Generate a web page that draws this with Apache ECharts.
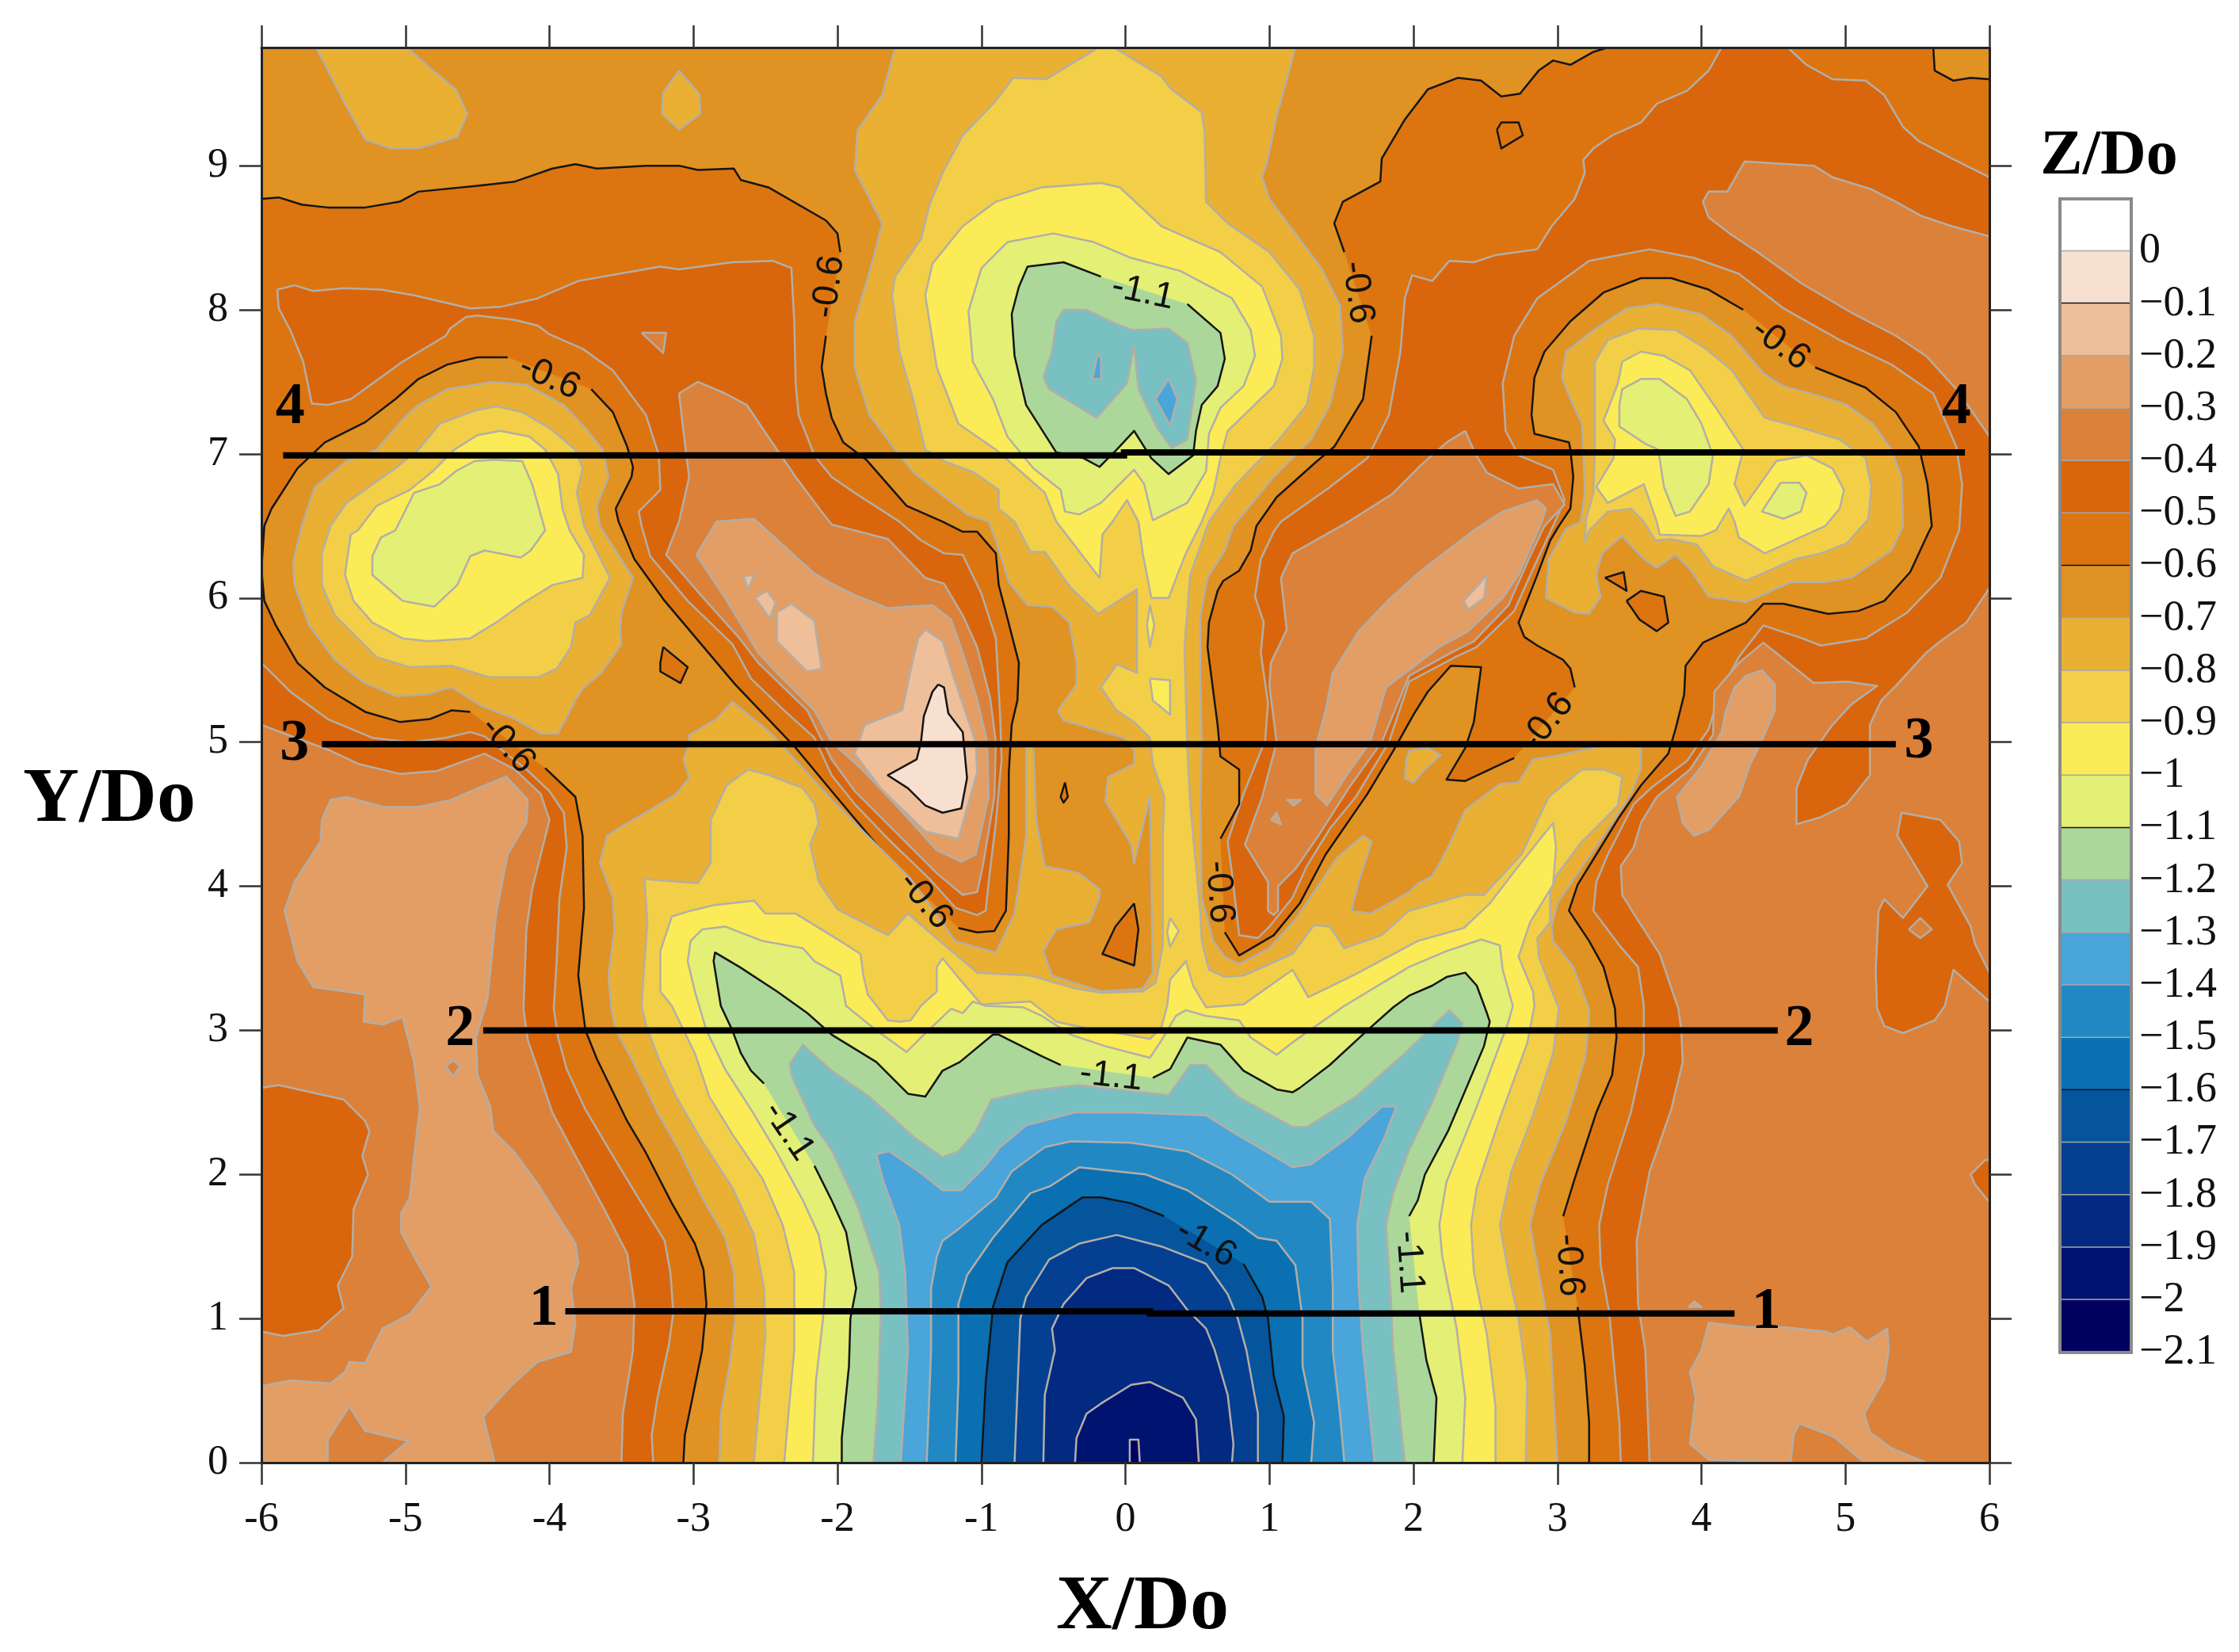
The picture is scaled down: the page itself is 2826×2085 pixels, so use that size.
<!DOCTYPE html>
<html><head><meta charset="utf-8">
<style>html,body{margin:0;padding:0;background:#fff}#c{width:2826px;height:2085px}</style>
<script src="https://cdn.jsdelivr.net/npm/echarts@6/dist/echarts.min.js"></script>
</head><body><div id="c"></div>
<script>
// ---------- tick labels and colour scale ----------
const xTicks = [-6,-5,-4,-3,-2,-1,0,1,2,3,4,5,6];
const yTicks = [0,1,2,3,4,5,6,7,8,9];
const scaleLevels = [0.1,0,-0.1,-0.2,-0.3,-0.4,-0.5,-0.6,-0.7,-0.8,-0.9,-1,-1.1,-1.2,-1.3,-1.4,-1.5,-1.6,-1.7,-1.8,-1.9,-2,-2.1];
const scaleColors = ['#ffffff','#f8e0d1','#efbf99','#e39e66','#dc813a','#d9660c','#dc7510','#e09222','#e9b034','#f2cf47','#fbeb57','#e3ef75','#abd79b','#78c0c2','#49a5da','#2288c3','#0a70b1','#05559d','#043f91','#022a80','#011370','#000060'];
const scaleLabels = ['0','−0.1','−0.2','−0.3','−0.4','−0.5','−0.6','−0.7','−0.8','−0.9','−1','−1.1','−1.2','−1.3','−1.4','−1.5','−1.6','−1.7','−1.8','−1.9','−2','−2.1'];

// ---------- contour outlines, in X/Do, Y/Do ----------
const base = [[-6,0],[6,0],[6,9.82],[-6,9.82]];

// Z/Do > -0.5
const gt05right = [[3.44,0],[3.43,0.28],[3.36,1.04],[3.3,1.37],[3.29,1.65],[3.35,1.93],[3.51,2.43],[3.6,2.84],[3.6,3.17],[3.56,3.44],[3.43,3.59],[3.25,3.83],[3.27,4.03],[3.35,4.22],[3.53,4.57],[3.66,4.69],[3.9,4.87],[4.05,5.09],[4.13,5.35],[4.26,5.59],[4.43,5.81],[4.7,5.72],[4.83,5.67],[5.14,5.72],[5.43,5.9],[5.66,6.14],[5.79,6.47],[5.81,6.79],[5.77,7.05],[5.61,7.42],[5.32,7.62],[4.96,7.79],[4.57,8.01],[4.26,8.25],[3.95,8.36],[3.64,8.42],[3.22,8.34],[2.86,8.08],[2.7,7.82],[2.62,7.49],[2.64,7.16],[2.73,6.99],[2.97,6.89],[3.05,6.68],[2.97,6.5],[2.83,6.2],[2.7,5.91],[2.44,5.66],[2.29,5.59],[1.97,5.42],[1.83,5.0],[1.6,4.62],[1.42,4.4],[1.26,4.14],[1.16,3.92],[1.0,3.72],[0.92,3.64],[0.79,3.66],[0.74,4.09],[0.71,4.31],[0.82,4.64],[0.97,5.01],[0.99,5.27],[0.94,5.62],[0.96,5.83],[0.9,6.01],[0.94,6.27],[1.03,6.46],[1.08,6.53],[1.42,6.77],[1.68,6.97],[1.83,7.27],[1.91,7.71],[1.94,8.08],[1.99,8.24],[2.13,8.2],[2.25,8.34],[2.42,8.33],[2.57,8.38],[2.86,8.42],[2.96,8.58],[3.12,8.77],[3.19,8.95],[3.18,9.04],[3.25,9.12],[3.38,9.21],[3.58,9.3],[3.69,9.43],[3.9,9.52],[4.05,9.66],[4.14,9.82],[4.6,9.82],[4.73,9.7],[4.91,9.6],[5.14,9.59],[5.27,9.49],[5.4,9.27],[5.51,9.17],[5.74,9.05],[6,8.92],[6,0]];
const gt05ridgeLeft = [[-5.89,8.14],[-5.77,8.17],[-5.64,8.13],[-5.43,8.15],[-5.17,8.14],[-4.94,8.1],[-4.55,8.01],[-4.34,8.02],[-4.08,8.08],[-3.8,8.2],[-3.46,8.26],[-3.23,8.3],[-3.1,8.28],[-2.73,8.33],[-2.45,8.34],[-2.32,8.29],[-2.3,7.92],[-2.29,7.49],[-2.27,7.27],[-2.16,6.99],[-2.04,6.84],[-1.88,6.73],[-1.57,6.53],[-1.42,6.4],[-1.26,6.31],[-1.13,6.3],[-1.0,6.03],[-0.9,5.72],[-0.87,5.18],[-0.86,4.88],[-0.9,4.44],[-0.95,4.03],[-0.97,3.83],[-1.03,3.8],[-1.18,3.85],[-1.36,4.05],[-1.65,4.33],[-1.88,4.57],[-2.04,4.77],[-2.16,5.03],[-2.37,5.22],[-2.6,5.44],[-2.73,5.68],[-3.04,5.98],[-3.3,6.29],[-3.36,6.5],[-3.38,6.6],[-3.23,6.75],[-3.24,6.99],[-3.33,7.27],[-3.56,7.58],[-3.77,7.73],[-4.0,7.83],[-4.08,7.89],[-4.24,7.93],[-4.5,7.96],[-4.58,7.95],[-4.69,7.87],[-4.72,7.82],[-5.02,7.64],[-5.38,7.38],[-5.54,7.34],[-5.65,7.35],[-5.71,7.64],[-5.8,7.86],[-5.88,8.01]];
const gt05lowerLeft = [[-6,5.55],[-5.8,5.35],[-5.54,5.16],[-5.23,5.03],[-4.97,5.0],[-4.72,5.03],[-4.55,5.07],[-4.45,5.04],[-4.16,4.81],[-4.0,4.66],[-3.9,4.51],[-3.88,4.27],[-3.93,3.92],[-3.95,3.48],[-3.97,3.15],[-3.94,2.95],[-3.88,2.73],[-3.75,2.45],[-3.56,2.13],[-3.36,1.8],[-3.2,1.54],[-3.16,1.32],[-3.14,1.04],[-3.17,0.82],[-3.25,0.45],[-3.29,0.19],[-3.28,0],[-6,0]];

// Z/Do > -0.4
const gt04lowerLeft = [[-6,5.12],[-5.52,4.94],[-5.33,4.85],[-5.04,4.78],[-4.78,4.8],[-4.45,4.92],[-4.24,4.81],[-4.06,4.64],[-4,4.46],[-4.06,4.22],[-4.12,3.98],[-4.16,3.7],[-4.18,3.15],[-4.15,2.93],[-4.08,2.73],[-3.98,2.43],[-3.82,2.13],[-3.62,1.76],[-3.46,1.45],[-3.41,1.1],[-3.42,0.78],[-3.49,0.34],[-3.5,0],[-6,0]];
const gt04ridgeLeft = [[-3.1,7.42],[-2.97,7.5],[-2.78,7.42],[-2.63,7.34],[-2.42,7.03],[-2.29,6.84],[-2.11,6.6],[-2.04,6.51],[-1.65,6.41],[-1.39,6.14],[-1.26,6.1],[-1.13,5.88],[-1.03,5.66],[-0.94,5.31],[-0.9,5.0],[-0.91,4.62],[-0.99,4.14],[-1.03,3.96],[-1.13,3.94],[-1.31,4.09],[-1.6,4.38],[-1.88,4.66],[-2.04,4.88],[-2.21,5.22],[-2.55,5.55],[-2.68,5.72],[-2.94,6.01],[-3.19,6.3],[-3.1,6.53],[-3.03,6.84],[-3.07,7.16]];
const gt04speck = [[-3.36,7.84],[-3.19,7.84],[-3.21,7.7]];
const gt04ridgeRight = [[2.36,7.16],[2.43,7.0],[2.51,6.87],[2.73,6.76],[2.97,6.79],[3.05,6.65],[2.91,6.5],[2.81,6.29],[2.66,5.95],[2.42,5.7],[2.26,5.62],[1.97,5.46],[1.78,5.0],[1.55,4.68],[1.34,4.35],[1.18,4.12],[1.06,4.0],[1.06,3.83],[1.03,3.8],[0.99,3.83],[0.99,4.03],[0.83,4.29],[0.95,4.62],[1.05,5.0],[1.0,5.39],[1.01,5.55],[1.12,5.78],[1.08,6.14],[1.16,6.31],[1.55,6.53],[1.85,6.72],[2.05,6.92],[2.23,7.08]];
const gt04lowerRight = [[3.64,0],[3.61,0.78],[3.56,1.1],[3.55,1.54],[3.64,2.02],[3.79,2.45],[3.87,2.78],[3.86,3.0],[3.84,3.15],[3.71,3.53],[3.53,3.81],[3.45,3.94],[3.44,4.14],[3.53,4.27],[3.58,4.44],[3.69,4.62],[3.92,4.81],[4.08,5.05],[4.09,5.35],[4.26,5.55],[4.43,5.69],[4.78,5.41],[5.01,5.42],[5.22,5.39],[5.04,5.26],[4.91,5.12],[4.74,4.88],[4.66,4.68],[4.66,4.43],[4.83,4.48],[5.01,4.57],[5.17,4.77],[5.17,5.12],[5.25,5.29],[5.35,5.39],[5.56,5.62],[5.66,5.7],[5.84,5.83],[6,6.07],[6,0]];
const gt04upperRight = [[4.3,9.03],[4.78,9.0],[4.91,8.92],[5.17,8.84],[5.35,8.75],[5.53,8.65],[5.74,8.58],[6,8.51],[6,7.12],[5.77,7.45],[5.56,7.68],[5.35,7.82],[5.06,7.97],[4.7,8.18],[4.39,8.4],[4.21,8.52],[4.05,8.64],[4.01,8.75],[4.05,8.82],[4.18,8.82]];

// Z/Do < -0.4 pockets
const lt04pocketLeft = [[-6,2.6],[-5.88,2.62],[-5.43,2.52],[-5.28,2.37],[-5.25,2.3],[-5.3,2.13],[-5.26,2.0],[-5.36,1.76],[-5.37,1.43],[-5.47,1.23],[-5.43,1.07],[-5.6,0.92],[-5.85,0.88],[-6,0.91]];
const lt04pocketRight = [[5.39,4.51],[5.66,4.46],[5.79,4.31],[5.81,4.16],[5.71,4.01],[5.87,3.72],[5.9,3.6],[6,3.4],[6,3.2],[5.75,3.42],[5.69,3.17],[5.62,3.07],[5.4,2.98],[5.27,3.03],[5.22,3.15],[5.21,3.42],[5.23,3.83],[5.27,3.91],[5.4,3.78],[5.57,4.0],[5.45,4.2],[5.36,4.35]];
const lt04pocketEdge = [[5.97,2.1],[5.87,2.0],[5.9,1.93],[5.99,1.82],[6,1.82],[6,2.1]];
const gt04diamond = [[5.44,3.7],[5.52,3.78],[5.6,3.7],[5.52,3.64]];

// Z/Do > -0.3
const gt03lowerLeft = [[-5.52,4.6],[-5.41,4.62],[-5.15,4.55],[-4.91,4.55],[-4.68,4.6],[-4.5,4.68],[-4.3,4.76],[-4.15,4.6],[-4.16,4.44],[-4.29,4.22],[-4.37,3.81],[-4.43,3.22],[-4.51,2.95],[-4.5,2.69],[-4.41,2.47],[-4.39,2.3],[-4.24,2.15],[-4.08,1.93],[-3.82,1.52],[-3.8,1.39],[-3.85,1.21],[-3.82,0.97],[-3.85,0.77],[-4.08,0.7],[-4.26,0.54],[-4.46,0.32],[-4.38,0],[-6,0],[-6,0.53],[-5.8,0.57],[-5.52,0.55],[-5.42,0.63],[-5.39,0.7],[-5.28,0.69],[-5.16,0.93],[-4.97,1.03],[-4.82,1.22],[-4.94,1.43],[-5.03,1.6],[-5.03,1.73],[-4.97,1.84],[-4.94,2.13],[-4.9,2.46],[-4.94,2.78],[-5.02,3.09],[-5.16,3.04],[-5.29,3.06],[-5.28,3.25],[-5.64,3.3],[-5.75,3.48],[-5.84,3.83],[-5.77,4.03],[-5.59,4.31],[-5.58,4.46]];
const gt04holeA = [[-4.72,2.75],[-4.67,2.79],[-4.62,2.75],[-4.67,2.68]];
const gt04holeB = [[-5.39,0.39],[-5.28,0.22],[-4.98,0.15],[-5.16,0],[-5.54,0],[-5.54,0.16]];
const gt03ridgeLeft = [[-2.98,6.3],[-2.84,6.53],[-2.58,6.55],[-2.16,6.17],[-2.04,6.1],[-1.88,6.02],[-1.65,5.93],[-1.34,5.95],[-1.21,5.85],[-1.13,5.62],[-1.03,5.3],[-0.96,5.0],[-0.95,4.62],[-1.04,4.22],[-1.14,4.17],[-1.31,4.25],[-1.6,4.57],[-1.83,4.81],[-2.04,5.0],[-2.16,5.22],[-2.42,5.48],[-2.55,5.62],[-2.78,6.0]];
const gt03ridgeRight = [[1.32,4.64],[1.32,4.96],[1.39,5.22],[1.44,5.48],[1.62,5.77],[1.83,5.99],[2.03,6.17],[2.42,6.47],[2.62,6.6],[2.86,6.68],[2.92,6.62],[2.88,6.5],[2.73,6.16],[2.62,6.0],[2.38,5.77],[2.18,5.66],[1.97,5.5],[1.81,5.38],[1.7,5.0],[1.55,4.79],[1.4,4.56]];
const gt03streak = [[4.42,5.5],[4.51,5.4],[4.51,5.22],[4.42,5.01],[4.34,4.85],[4.26,4.62],[4.05,4.39],[3.95,4.35],[3.87,4.44],[3.83,4.62],[4.0,4.83],[4.14,5.07],[4.17,5.22],[4.23,5.38],[4.31,5.46]];
const gt03lowerRight = [[4.05,0.97],[4.31,0.94],[4.57,0.94],[4.86,0.91],[4.91,0.89],[5.03,0.94],[5.15,0.84],[5.29,0.93],[5.3,0.78],[5.27,0.58],[5.13,0.34],[5.17,0.21],[5.32,0.1],[5.56,0],[5.13,0],[4.92,0.18],[4.68,0.27],[4.64,0.19],[4.62,0],[4.05,0.02],[3.92,0.13],[3.96,0.45],[3.92,0.63],[4.0,0.78]];
const gt03fleckA = [[3.91,1.08],[3.95,1.12],[4.0,1.08]];

// Z/Do > -0.2
const gt02ridgeLeft = [[-1.39,5.78],[-1.27,5.7],[-1.19,5.44],[-1.04,5.0],[-1.03,4.79],[-1.16,4.33],[-1.39,4.38],[-1.7,4.68],[-1.88,4.92],[-1.81,5.12],[-1.55,5.22],[-1.48,5.55],[-1.44,5.72]];
const gt02fleckA = [[-2.42,5.9],[-2.32,5.96],[-2.16,5.84],[-2.11,5.51],[-2.21,5.49],[-2.42,5.7]];
const gt02fleckB = [[-2.57,6.0],[-2.49,6.05],[-2.43,5.97],[-2.47,5.86]];
const gt02fleckC = [[-2.65,6.15],[-2.58,6.16],[-2.62,6.06]];
const gt02fleckD = [[2.51,6.16],[2.49,6.0],[2.38,5.92],[2.35,5.98],[2.45,6.09]];
const gt03fleckB = [[1.12,4.6],[1.22,4.6],[1.17,4.56]];
const gt03fleckC = [[1.01,4.46],[1.05,4.51],[1.08,4.43]];

// Z/Do > -0.1
const gt01peak = [[-1.3,5.4],[-1.26,5.38],[-1.23,5.2],[-1.13,5.07],[-1.1,4.75],[-1.14,4.54],[-1.27,4.51],[-1.39,4.56],[-1.51,4.68],[-1.65,4.77],[-1.45,4.88],[-1.42,5.0],[-1.4,5.18],[-1.34,5.35]];

// Z/Do < -0.6
const lt06main = [[-6,8.77],[-5.88,8.78],[-5.72,8.73],[-5.54,8.71],[-5.28,8.71],[-5.04,8.75],[-4.91,8.82],[-4.5,8.86],[-4.24,8.89],[-3.98,8.98],[-3.82,9.01],[-3.67,8.98],[-3.33,9.0],[-3.1,9.0],[-2.97,8.97],[-2.72,8.98],[-2.67,8.9],[-2.48,8.85],[-2.08,8.62],[-2.0,8.53],[-1.98,8.4],[-2.08,7.82],[-2.11,7.6],[-2.08,7.42],[-2.04,7.25],[-1.96,7.08],[-1.8,6.96],[-1.52,6.64],[-1.27,6.53],[-1.13,6.46],[-1.03,6.46],[-0.9,6.31],[-0.88,6.09],[-0.83,5.9],[-0.74,5.55],[-0.75,5.29],[-0.79,5.12],[-0.81,4.79],[-0.81,4.35],[-0.83,3.83],[-0.91,3.69],[-1.03,3.68],[-1.16,3.71],[-1.62,4.16],[-2.04,4.66],[-2.29,4.96],[-2.71,5.4],[-3.2,5.98],[-3.41,6.27],[-3.52,6.53],[-3.54,6.62],[-3.43,6.84],[-3.42,6.91],[-3.46,7.05],[-3.56,7.29],[-3.71,7.45],[-4.29,7.67],[-4.5,7.67],[-4.71,7.62],[-4.91,7.52],[-5.07,7.38],[-5.28,7.22],[-5.56,7.08],[-5.75,6.9],[-5.93,6.62],[-5.98,6.5],[-6,6.2],[-5.98,5.98],[-5.9,5.81],[-5.75,5.55],[-5.56,5.38],[-5.28,5.21],[-5.04,5.14],[-4.83,5.16],[-4.68,5.22],[-4.55,5.21],[-4.03,4.82],[-3.82,4.62],[-3.77,4.35],[-3.76,3.85],[-3.8,3.38],[-3.77,3.15],[-3.75,3.0],[-3.67,2.8],[-3.46,2.37],[-3.33,2.15],[-3.15,1.8],[-2.99,1.52],[-2.93,1.34],[-2.91,1.1],[-2.94,0.78],[-3.06,0.19],[-3.07,0],[3.22,0],[3.22,0.28],[3.19,0.67],[3.14,1.08],[3.04,1.71],[3.12,1.97],[3.27,2.43],[3.38,2.69],[3.41,2.95],[3.4,3.15],[3.32,3.44],[3.22,3.62],[3.08,3.83],[3.14,4.01],[3.27,4.22],[3.43,4.48],[3.58,4.7],[3.77,4.92],[3.82,5.09],[3.88,5.33],[3.89,5.53],[4.01,5.69],[4.31,5.83],[4.43,5.96],[4.57,5.96],[4.88,5.89],[5.09,5.91],[5.27,5.98],[5.45,6.18],[5.57,6.44],[5.6,6.5],[5.57,6.79],[5.51,7.05],[5.35,7.29],[5.14,7.46],[4.79,7.6],[4.29,8.0],[4.05,8.14],[3.79,8.22],[3.58,8.22],[3.32,8.12],[3.09,7.92],[2.91,7.71],[2.84,7.53],[2.82,7.27],[2.84,7.14],[3.08,7.08],[3.09,7.03],[3.11,6.84],[3.09,6.62],[3.01,6.5],[2.95,6.4],[2.86,6.16],[2.73,5.83],[2.77,5.73],[2.86,5.67],[3.04,5.57],[3.09,5.51],[3.12,5.38],[2.7,4.89],[2.36,4.73],[2.23,4.74],[2.36,4.96],[2.42,5.14],[2.47,5.52],[2.26,5.53],[2.1,5.35],[2.0,5.19],[1.86,4.94],[1.68,4.64],[1.39,4.22],[1.21,3.88],[1.03,3.66],[0.79,3.52],[0.69,3.68],[0.66,4.33],[0.79,4.57],[0.79,4.81],[0.66,4.9],[0.64,5.12],[0.57,5.66],[0.58,5.83],[0.64,6.05],[0.68,6.12],[0.79,6.19],[0.87,6.33],[0.91,6.5],[1.05,6.7],[1.33,6.95],[1.45,7.05],[1.65,7.38],[1.71,7.82],[1.52,8.4],[1.45,8.6],[1.51,8.75],[1.77,8.89],[1.78,9.05],[1.94,9.32],[2.1,9.53],[2.31,9.61],[2.47,9.59],[2.61,9.48],[2.74,9.5],[2.87,9.66],[2.97,9.73],[3.09,9.7],[3.25,9.79],[3.35,9.82],[-6,9.82]];
const lt06corner = [[5.61,9.82],[5.62,9.66],[5.75,9.59],[5.87,9.61],[6,9.6],[6,9.82]];
// Z/Do > -0.6 pockets
const gt06pocketA = [[2.58,9.25],[2.61,9.3],[2.73,9.3],[2.76,9.21],[2.61,9.12]];
const gt06pocketB = [[-3.21,5.66],[-3.04,5.52],[-3.09,5.41],[-3.23,5.49],[-3.23,5.55]];
const gt06pocketC = [[0.06,3.88],[0.09,3.7],[0.06,3.45],[-0.16,3.53],[-0.07,3.72]];
const gt06pocketD = [[-0.42,4.72],[-0.4,4.62],[-0.43,4.58],[-0.45,4.62]];
const gt06pocketE = [[3.33,6.14],[3.46,6.18],[3.48,6.05]];
const gt06pocketF = [[3.48,5.98],[3.58,6.05],[3.74,6.01],[3.77,5.83],[3.69,5.77],[3.57,5.85]];

// Z/Do < -0.7
const lt07main = [[-1.6,9.82],[-1.69,9.49],[-1.86,9.25],[-1.88,8.97],[-1.73,8.68],[-1.69,8.6],[-1.75,8.36],[-1.88,7.92],[-1.88,7.6],[-1.78,7.27],[-1.6,7.03],[-1.47,6.87],[-1.28,6.72],[-1.1,6.58],[-0.95,6.53],[-0.9,6.4],[-0.81,6.11],[-0.68,5.95],[-0.51,5.94],[-0.39,5.83],[-0.34,5.55],[-0.34,5.4],[-0.47,5.22],[-0.43,5.15],[-0.01,5.03],[0.06,4.94],[0.06,4.85],[-0.12,4.76],[-0.14,4.59],[0.04,4.29],[0.06,4.16],[0.17,4.62],[0.19,3.4],[0.12,3.29],[-0.17,3.27],[-0.51,3.38],[-0.57,3.55],[-0.48,3.7],[-0.25,3.75],[-0.18,3.92],[-0.18,3.98],[-0.32,4.09],[-0.56,4.14],[-0.62,4.46],[-0.64,4.96],[-0.66,5.0],[-0.69,4.96],[-0.69,4.35],[-0.77,3.81],[-0.9,3.54],[-1.18,3.62],[-1.49,4.05],[-1.73,4.29],[-2.04,4.6],[-2.47,5.07],[-2.73,5.28],[-2.84,5.16],[-3.03,5.05],[-3.04,4.96],[-3.07,4.88],[-3.03,4.75],[-3.12,4.64],[-3.3,4.53],[-3.54,4.39],[-3.6,4.35],[-3.65,4.16],[-3.56,3.92],[-3.55,3.7],[-3.59,3.38],[-3.57,3.15],[-3.54,3.0],[-3.43,2.8],[-3.25,2.43],[-3.1,2.17],[-2.94,1.84],[-2.78,1.56],[-2.72,1.32],[-2.71,1.0],[-2.75,0.67],[-2.81,0.34],[-2.82,0],[3.0,0],[2.98,0.34],[2.95,0.89],[2.87,1.32],[2.81,1.65],[2.88,1.93],[3.06,2.37],[3.19,2.8],[3.22,3.06],[3.22,3.15],[3.11,3.44],[2.97,3.62],[2.96,3.72],[3.0,3.88],[3.14,4.09],[3.32,4.35],[3.51,4.64],[3.58,4.81],[3.58,4.96],[3.43,5.0],[3.25,4.96],[3.01,4.91],[2.83,4.88],[2.73,4.72],[2.6,4.71],[2.36,4.53],[2.23,4.25],[2.13,4.07],[2.03,4.02],[1.97,3.96],[1.7,3.81],[1.57,3.83],[1.62,4.03],[1.71,4.31],[1.65,4.35],[1.47,4.2],[1.31,3.96],[1.18,3.77],[1.0,3.57],[0.79,3.46],[0.69,3.51],[0.61,3.62],[0.53,3.92],[0.52,4.57],[0.53,5.0],[0.52,5.44],[0.52,5.88],[0.57,6.14],[0.69,6.33],[0.75,6.5],[1.03,6.84],[1.29,7.1],[1.42,7.34],[1.51,7.71],[1.49,8.03],[1.36,8.29],[1.18,8.53],[1.0,8.77],[0.95,8.92],[0.99,9.05],[1.05,9.34],[1.18,9.82]];
const lt07topLeft = [[-5.62,9.82],[-5.43,9.45],[-5.28,9.18],[-5.1,9.12],[-4.91,9.12],[-4.64,9.2],[-4.57,9.36],[-4.65,9.53],[-4.83,9.68],[-4.99,9.82]];
const lt07topSpot = [[-3.1,9.66],[-2.96,9.5],[-2.95,9.36],[-3.1,9.25],[-3.22,9.36],[-3.21,9.51]];
const lt07leftLobe = [[-5.72,6.5],[-5.63,6.77],[-5.41,6.95],[-5.2,7.03],[-5.02,7.24],[-4.91,7.34],[-4.71,7.45],[-4.39,7.5],[-4.16,7.48],[-3.9,7.34],[-3.75,7.18],[-3.63,7.03],[-3.59,6.84],[-3.67,6.64],[-3.65,6.5],[-3.42,6.14],[-3.5,5.9],[-3.51,5.77],[-3.5,5.68],[-3.64,5.48],[-3.76,5.38],[-3.82,5.29],[-3.94,5.06],[-4.06,5.06],[-4.26,5.17],[-4.47,5.25],[-4.68,5.38],[-4.86,5.33],[-5.07,5.32],[-5.3,5.42],[-5.49,5.57],[-5.67,5.81],[-5.77,6.09],[-5.78,6.25]];
const lt07rightLobe = [[3.03,7.53],[3.06,7.71],[3.25,7.86],[3.48,8.01],[3.69,8.04],[4.0,7.97],[4.21,7.82],[4.44,7.55],[4.57,7.47],[4.83,7.4],[5.01,7.34],[5.19,7.21],[5.32,7.03],[5.39,6.84],[5.4,6.5],[5.32,6.33],[5.04,6.14],[4.86,6.11],[4.62,6.11],[4.31,5.97],[4.05,6.01],[3.92,6.2],[3.82,6.3],[3.69,6.21],[3.6,6.27],[3.45,6.43],[3.31,6.31],[3.27,6.16],[3.3,6.01],[3.22,5.89],[3.12,5.9],[2.92,6.0],[2.94,6.27],[3.06,6.48],[3.16,6.53],[3.19,6.73],[3.18,7.01],[3.17,7.21],[3.09,7.38]];
const lt07patch = [[1.97,4.94],[2.1,4.96],[2.19,4.91],[2.08,4.81],[2.0,4.72],[1.94,4.75],[1.95,4.88]];

// Z/Do < -0.8
const lt08main = [[-0.19,9.82],[-0.08,9.82],[0.25,9.62],[0.32,9.53],[0.53,9.37],[0.55,9.23],[0.56,8.75],[0.71,8.6],[1.0,8.4],[1.21,8.14],[1.31,7.82],[1.31,7.6],[1.26,7.34],[1.05,7.08],[0.76,6.78],[0.58,6.53],[0.45,6.16],[0.41,5.66],[0.43,4.96],[0.45,4.57],[0.49,4.14],[0.52,3.81],[0.53,3.62],[0.58,3.42],[0.69,3.37],[0.82,3.38],[1.16,3.53],[1.31,3.73],[1.42,3.72],[1.52,3.57],[1.78,3.66],[1.97,3.83],[2.36,3.94],[2.49,3.94],[2.75,4.22],[2.94,4.62],[3.17,4.81],[3.32,4.81],[3.45,4.76],[3.42,4.56],[3.17,4.31],[2.99,4.07],[2.95,3.96],[2.95,3.75],[2.86,3.64],[2.87,3.51],[3.01,3.15],[2.97,2.84],[2.83,2.41],[2.68,2.02],[2.6,1.65],[2.66,1.32],[2.73,1.0],[2.79,0.56],[2.78,0],[-2.58,0],[-2.55,0.34],[-2.5,0.89],[-2.51,1.21],[-2.58,1.58],[-2.73,1.91],[-2.94,2.23],[-3.12,2.54],[-3.24,2.8],[-3.33,3.04],[-3.36,3.17],[-3.34,3.48],[-3.32,3.75],[-3.34,4.05],[-2.97,4.02],[-2.88,4.16],[-2.88,4.46],[-2.77,4.7],[-2.62,4.81],[-2.47,4.77],[-2.24,4.68],[-2.16,4.57],[-2.13,4.44],[-2.19,4.29],[-2.13,4.03],[-2.0,3.84],[-1.65,3.66],[-1.51,3.81],[-1.29,3.62],[-1.03,3.4],[-0.66,3.38],[-0.35,3.29],[-0.17,3.26],[0.12,3.27],[0.21,3.33],[0.26,3.59],[0.26,4.35],[0.27,4.62],[0.19,4.85],[0.17,5.03],[0.06,5.14],[-0.06,5.22],[-0.17,5.38],[-0.06,5.54],[0.08,5.48],[0.08,6.06],[-0.19,5.89],[-0.38,6.07],[-0.56,6.32],[-0.66,6.32],[-0.77,6.53],[-0.88,6.62],[-0.88,6.75],[-1.05,6.87],[-1.26,6.95],[-1.39,7.03],[-1.48,7.4],[-1.57,7.71],[-1.62,8.1],[-1.6,8.23],[-1.42,8.49],[-1.36,8.73],[-1.26,8.97],[-1.13,9.21],[-0.9,9.45],[-0.78,9.61],[-0.55,9.6],[-0.22,9.8]];
const lt08leftLobe = [[-5.52,6.5],[-5.41,6.66],[-5.07,6.9],[-4.91,7.03],[-4.76,7.21],[-4.52,7.3],[-4.37,7.33],[-4.19,7.29],[-4.0,7.18],[-3.82,7.03],[-3.77,6.9],[-3.81,6.73],[-3.76,6.5],[-3.58,6.14],[-3.72,5.88],[-3.82,5.83],[-3.85,5.66],[-3.95,5.51],[-4.08,5.45],[-4.42,5.45],[-4.68,5.53],[-4.97,5.52],[-5.2,5.59],[-5.49,5.88],[-5.58,6.09],[-5.58,6.31]];
const lt08rightLobe = [[3.26,7.64],[3.35,7.79],[3.56,7.87],[3.82,7.86],[4.03,7.73],[4.21,7.58],[4.44,7.25],[4.7,7.18],[4.96,7.1],[5.14,6.97],[5.18,6.77],[5.16,6.55],[5.01,6.38],[4.83,6.31],[4.65,6.27],[4.31,6.12],[4.08,6.22],[3.97,6.37],[3.79,6.41],[3.68,6.4],[3.6,6.53],[3.51,6.62],[3.35,6.6],[3.22,6.47],[3.19,6.39],[3.2,6.55],[3.25,6.73],[3.26,7.01],[3.26,7.38]];

// Z/Do < -0.9
const lt09top = [[-0.9,8.75],[-0.58,8.85],[-0.17,8.88],[-0.04,8.85],[0.25,8.58],[0.66,8.4],[0.95,8.16],[1.08,7.82],[1.09,7.66],[1.03,7.47],[0.71,7.16],[0.66,6.97],[0.61,6.73],[0.53,6.53],[0.42,6.31],[0.36,6.16],[0.3,6.0],[0.18,6.0],[0.12,6.31],[0.09,6.53],[0.01,6.68],[-0.09,6.53],[-0.16,6.44],[-0.18,6.14],[-0.48,6.53],[-0.56,6.73],[-0.9,7.03],[-1.16,7.21],[-1.31,7.6],[-1.39,8.1],[-1.34,8.32],[-1.13,8.58]];
const lt09main = [[-2.37,0],[-2.34,0.34],[-2.3,0.78],[-2.3,1.32],[-2.38,1.65],[-2.52,1.97],[-2.73,2.28],[-2.89,2.54],[-2.99,2.84],[-3.15,3.17],[-3.23,3.27],[-3.23,3.55],[-3.15,3.79],[-3.02,3.83],[-2.85,3.87],[-2.58,3.9],[-2.5,3.81],[-2.29,3.81],[-2.11,3.7],[-1.98,3.62],[-1.84,3.53],[-1.82,3.38],[-1.79,3.25],[-1.65,3.07],[-1.57,3.06],[-1.49,3.07],[-1.42,3.17],[-1.31,3.27],[-1.31,3.44],[-1.27,3.5],[-1.13,3.33],[-1.0,3.18],[-0.66,3.2],[-0.48,3.06],[-0.25,3.01],[0.01,2.97],[0.17,2.94],[0.25,3.02],[0.29,3.17],[0.31,3.35],[0.42,3.48],[0.47,3.31],[0.56,3.16],[0.82,3.18],[1.16,3.42],[1.27,3.23],[1.6,3.39],[2.03,3.62],[2.35,3.71],[2.53,3.88],[2.73,4.14],[2.97,4.44],[2.99,4.27],[2.97,4.01],[2.81,3.75],[2.73,3.51],[2.83,3.27],[2.84,3.17],[2.79,2.91],[2.6,2.39],[2.44,1.91],[2.4,1.65],[2.42,1.32],[2.51,0.89],[2.57,0.39],[2.57,0]];
const lt09leftLobe = [[-5.33,6.47],[-5.2,6.64],[-4.97,6.75],[-4.81,6.88],[-4.66,7.03],[-4.5,7.13],[-4.34,7.16],[-4.14,7.12],[-4.03,7.03],[-3.94,6.86],[-3.91,6.62],[-3.86,6.47],[-3.76,6.3],[-3.77,6.14],[-3.98,6.09],[-4.19,5.96],[-4.37,5.83],[-4.55,5.72],[-4.84,5.7],[-5.02,5.72],[-5.23,5.83],[-5.36,5.98],[-5.42,6.16],[-5.38,6.44]];
const lt09rightLobe = [[3.42,7.49],[3.45,7.64],[3.58,7.71],[3.74,7.68],[3.92,7.58],[4.1,7.32],[4.29,7.03],[4.23,6.79],[4.3,6.64],[4.52,6.95],[4.73,6.99],[4.91,6.9],[4.99,6.75],[4.96,6.62],[4.86,6.5],[4.44,6.31],[4.26,6.42],[4.23,6.53],[4.19,6.62],[4.1,6.47],[4.0,6.43],[3.71,6.44],[3.69,6.53],[3.6,6.79],[3.35,6.66],[3.27,6.77],[3.39,6.97],[3.4,7.1],[3.32,7.23]];
const lt09spotA = [[0.17,5.44],[0.31,5.43],[0.31,5.19],[0.19,5.29]];
const lt09spotB = [[0.17,5.95],[0.2,5.81],[0.17,5.66],[0.15,5.81]];
const lt09spotC = [[0.31,3.78],[0.37,3.69],[0.31,3.58],[0.29,3.68]];

// Z/Do < -1
const lt10top = [[-0.82,8.47],[-0.5,8.53],[-0.22,8.47],[0.04,8.36],[0.38,8.27],[0.74,8.08],[0.87,7.86],[0.9,7.68],[0.82,7.47],[0.66,7.32],[0.58,7.14],[0.56,6.88],[0.43,6.66],[0.19,6.54],[0.13,6.79],[0.06,6.89],[-0.17,6.66],[-0.32,6.58],[-0.42,6.6],[-0.45,6.75],[-0.64,6.9],[-0.82,7.12],[-0.92,7.38],[-1.06,7.64],[-1.09,7.99],[-1.0,8.29]];
const lt10main = [[-2.17,0],[-2.15,0.56],[-2.1,1.0],[-2.08,1.32],[-2.13,1.58],[-2.24,1.82],[-2.42,2.15],[-2.6,2.45],[-2.78,2.73],[-2.91,3.0],[-2.99,3.27],[-3.04,3.48],[-3.02,3.62],[-2.94,3.7],[-2.78,3.72],[-2.52,3.62],[-2.24,3.57],[-2.16,3.48],[-1.98,3.38],[-1.94,3.17],[-1.73,3.0],[-1.52,2.85],[-1.4,2.97],[-1.21,3.15],[-1.13,3.12],[-1.06,3.2],[-0.97,3.17],[-0.71,3.16],[-0.58,3.1],[-0.38,2.97],[-0.14,2.89],[0.17,2.81],[0.25,2.93],[0.35,3.1],[0.42,3.14],[0.56,3.1],[0.79,3.07],[0.87,2.95],[1.05,2.83],[1.18,2.93],[1.52,3.17],[1.97,3.44],[2.23,3.55],[2.47,3.63],[2.6,3.59],[2.62,3.42],[2.69,3.17],[2.66,3.06],[2.44,2.47],[2.23,1.95],[2.18,1.65],[2.2,1.43],[2.3,0.93],[2.36,0.45],[2.34,0]];
const lt10leftLobe = [[-5.07,6.47],[-4.94,6.73],[-4.76,6.79],[-4.65,6.88],[-4.52,6.95],[-4.39,6.96],[-4.19,6.95],[-4.12,6.79],[-4.03,6.47],[-4.13,6.33],[-4.2,6.28],[-4.45,6.33],[-4.55,6.29],[-4.64,6.09],[-4.8,5.94],[-5.02,5.98],[-5.23,6.16],[-5.23,6.29],[-5.17,6.42]];
const lt10rightLobeA = [[3.43,7.34],[3.45,7.45],[3.58,7.52],[3.71,7.52],[3.9,7.38],[4.0,7.21],[4.08,6.99],[4.05,6.79],[3.92,6.6],[3.82,6.57],[3.74,6.77],[3.7,7.03],[3.61,7.07],[3.43,7.19]];
const lt10rightLobeB = [[4.55,6.8],[4.68,6.8],[4.73,6.73],[4.69,6.6],[4.57,6.55],[4.42,6.6]];

// Z/Do < -1.1
const lt11top = [[-0.68,8.3],[-0.43,8.33],[-0.17,8.23],[0.43,8.04],[0.66,7.84],[0.69,7.66],[0.64,7.47],[0.53,7.34],[0.49,7.16],[0.47,6.99],[0.3,6.86],[0.18,6.97],[0.06,7.16],[-0.06,7.03],[-0.13,6.96],[-0.18,6.91],[-0.29,6.97],[-0.48,7.01],[-0.55,7.12],[-0.69,7.34],[-0.77,7.68],[-0.79,7.97],[-0.74,8.16]];
const lt11main = [[-1.97,0],[-1.97,0.17],[-1.92,0.67],[-1.91,1.0],[-1.87,1.21],[-1.94,1.6],[-2.04,1.82],[-2.16,2.06],[-2.51,2.63],[-2.6,2.72],[-2.67,2.84],[-2.73,3.0],[-2.81,3.17],[-2.86,3.48],[-2.85,3.54],[-2.68,3.44],[-2.42,3.27],[-2.21,3.12],[-2.04,2.97],[-1.73,2.78],[-1.51,2.56],[-1.39,2.54],[-1.27,2.72],[-1.15,2.78],[-0.92,2.97],[-0.88,2.97],[-0.58,2.82],[-0.45,2.76],[0.19,2.67],[0.31,2.73],[0.43,2.95],[0.66,2.9],[0.82,2.72],[1.05,2.59],[1.16,2.57],[1.21,2.6],[1.42,2.76],[1.68,3.0],[1.86,3.16],[1.97,3.24],[2.13,3.31],[2.23,3.37],[2.36,3.4],[2.44,3.31],[2.51,3.12],[2.53,3.06],[2.49,2.89],[2.24,2.3],[2.08,2.0],[2.03,1.82],[1.97,1.71],[2.04,1.04],[2.09,0.71],[2.16,0.45],[2.14,0]];

// Z/Do < -1.2
const lt12top = [[-0.43,8.0],[-0.27,8.0],[-0.06,7.9],[0.05,7.86],[0.3,7.87],[0.43,7.77],[0.49,7.51],[0.43,7.1],[0.32,7.04],[0.22,7.18],[0.09,7.45],[0.06,7.75],[0.01,7.49],[-0.2,7.25],[-0.53,7.45],[-0.57,7.53],[-0.51,7.71],[-0.48,7.92]];
const lt12main = [[-1.75,0],[-1.72,0.41],[-1.7,1.04],[-1.71,1.32],[-1.86,1.78],[-2.04,2.17],[-2.16,2.34],[-2.32,2.69],[-2.33,2.77],[-2.24,2.9],[-2.04,2.72],[-1.78,2.54],[-1.47,2.26],[-1.27,2.12],[-1.16,2.16],[-1.04,2.3],[-0.93,2.52],[-0.66,2.58],[-0.33,2.62],[0.3,2.55],[0.45,2.76],[0.56,2.76],[0.78,2.54],[1.16,2.33],[1.26,2.33],[1.6,2.54],[1.94,2.84],[2.25,3.14],[2.34,3.05],[2.31,2.93],[2.13,2.5],[1.97,2.17],[1.86,1.87],[1.81,1.65],[1.84,1.21],[1.86,0.78],[1.94,0]];

// Z/Do < -1.3
const lt13spotA = [[-0.23,7.52],[-0.19,7.7],[-0.17,7.66],[-0.17,7.52]];
const lt13spotB = [[0.3,7.52],[0.36,7.38],[0.31,7.2],[0.21,7.38]];
const lt13main = [[-1.73,2.14],[-1.64,2.16],[-1.42,2.01],[-1.27,1.89],[-1.14,1.89],[-0.97,2.06],[-0.87,2.19],[-0.69,2.34],[-0.35,2.43],[0.04,2.43],[0.56,2.41],[0.77,2.28],[1.16,2.05],[1.29,2.07],[1.55,2.26],[1.78,2.47],[1.88,2.47],[1.8,2.26],[1.66,1.97],[1.61,1.65],[1.62,1.21],[1.65,0.78],[1.73,0],[-1.56,0],[-1.51,0.78],[-1.53,1.32],[-1.57,1.65],[-1.68,1.95]];

// Z/Do < -1.4 ... -2
const lt14main = [[-1.38,0],[-1.35,0.78],[-1.35,1.21],[-1.31,1.43],[-1.27,1.54],[-1.16,1.62],[-0.9,1.84],[-0.79,2.02],[-0.56,2.19],[-0.38,2.23],[0.04,2.22],[0.43,2.16],[0.74,2.0],[1.0,1.81],[1.29,1.81],[1.42,1.69],[1.44,1.21],[1.44,0.78],[1.49,0.34],[1.52,0]];
const lt15main = [[-1.18,0],[-1.16,0.56],[-1.16,1.1],[-1.1,1.3],[-0.92,1.56],[-0.66,1.87],[-0.52,1.92],[-0.32,2.05],[0.14,2.0],[0.43,1.89],[0.77,1.67],[0.92,1.56],[1.05,1.54],[1.18,1.37],[1.23,1.0],[1.23,0.67],[1.31,0.28],[1.29,0]];
const lt16main = [[-1.0,0],[-0.97,0.56],[-0.92,1.08],[-0.82,1.39],[-0.58,1.65],[-0.3,1.84],[-0.17,1.84],[0.04,1.8],[0.27,1.71],[0.82,1.38],[0.95,1.15],[0.99,1.0],[1.03,0.6],[1.1,0.32],[1.09,0]];
const lt17main = [[-0.77,0],[-0.73,1.0],[-0.69,1.15],[-0.53,1.41],[-0.32,1.52],[-0.06,1.58],[0.25,1.5],[0.56,1.38],[0.71,1.17],[0.78,1.0],[0.84,0.78],[0.92,0.34],[0.92,0]];
const lt18main = [[-0.57,0],[-0.56,0.47],[-0.49,0.78],[-0.51,0.93],[-0.43,1.1],[-0.27,1.28],[-0.09,1.35],[0.06,1.35],[0.3,1.23],[0.43,1.06],[0.56,0.93],[0.62,0.78],[0.71,0.47],[0.75,0.13],[0.74,0]];
const lt19main = [[-0.35,0],[-0.34,0.17],[-0.27,0.34],[-0.17,0.41],[0.04,0.54],[0.17,0.56],[0.4,0.45],[0.49,0.3],[0.51,0]];
const lt20main = [[0.03,0],[0.03,0.16],[0.09,0.16],[0.1,0]];

// section lines and their numbers
const section1 = [[-3.89,1.05],[0.17,1.05],[0.17,1.035],[4.23,1.035]];
const section2 = [[-4.46,3],[4.53,3]];
const section3 = [[-5.58,4.985],[5.35,4.985]];
const section4 = [[-5.85,6.99],[-0.01,6.99],[-0.01,7.01],[5.83,7.01]];
const sectionNumbers = [[-4.04,1.06,'1'],[4.45,1.04,'1'],[-4.62,3,'2'],[4.68,3,'2'],[-5.77,4.98,'3'],[5.51,5,'3'],[-5.8,7.32,'4'],[5.77,7.32,'4']];

// contour labels: position and value
const contourLabels = [[-4.0,7.53,'-0.6'],[-2.06,8.16,'-0.6'],[1.61,8.12,'-0.6'],[0.12,8.12,'-1.1'],[4.55,7.76,'-0.6'],[-4.29,4.98,'-0.6'],[-1.39,3.9,'-0.6'],[0.65,3.96,'-0.6'],[2.93,5.14,'-0.6'],[-2.34,2.3,'-1.1'],[-0.1,2.68,'-1.1'],[0.56,1.52,'-1.6'],[1.97,1.39,'-1.1'],[3.08,1.37,'-0.6']];
const contourLabelAngles = [-24,82,-82,-12,-36,-48,-50,-86,52,-56,-6,-30,-86,-86];

// ---------- painter's table: outline, contour level, band index ----------
const shapes = [
 [base,-0.5,6],
 [gt05right,-0.5,5],[gt05ridgeLeft,-0.5,5],[gt05lowerLeft,-0.5,5],
 [gt04lowerLeft,-0.4,4],[gt04ridgeLeft,-0.4,4],[gt04speck,-0.4,4],[gt04ridgeRight,-0.4,4],[gt04lowerRight,-0.4,4],[gt04upperRight,-0.4,4],
 [lt04pocketLeft,-0.4,5],[lt04pocketRight,-0.4,5],[lt04pocketEdge,-0.4,5],[gt04diamond,-0.4,4],
 [gt03lowerLeft,-0.3,3],[gt04holeA,-0.3,4],[gt04holeB,-0.3,4],[gt03ridgeLeft,-0.3,3],[gt03ridgeRight,-0.3,3],[gt03streak,-0.3,3],[gt03lowerRight,-0.3,3],[gt03fleckA,-0.3,3],[gt03fleckB,-0.3,3],[gt03fleckC,-0.3,3],
 [gt02ridgeLeft,-0.2,2],[gt02fleckA,-0.2,2],[gt02fleckB,-0.2,2],[gt02fleckC,-0.2,2],[gt02fleckD,-0.2,2],
 [gt01peak,-0.1,1],
 [lt06main,-0.6,7],[lt06corner,-0.6,7],[gt06pocketA,-0.6,6],[gt06pocketB,-0.6,6],[gt06pocketC,-0.6,6],[gt06pocketD,-0.6,6],[gt06pocketE,-0.6,6],[gt06pocketF,-0.6,6],
 [lt07main,-0.7,8],[lt07topLeft,-0.7,8],[lt07topSpot,-0.7,8],[lt07leftLobe,-0.7,8],[lt07rightLobe,-0.7,8],[lt07patch,-0.7,8],
 [lt08main,-0.8,9],[lt08leftLobe,-0.8,9],[lt08rightLobe,-0.8,9],
 [lt09top,-0.9,10],[lt09main,-0.9,10],[lt09leftLobe,-0.9,10],[lt09rightLobe,-0.9,10],[lt09spotA,-0.9,10],[lt09spotB,-0.9,10],[lt09spotC,-0.9,10],
 [lt10top,-1,11],[lt10main,-1,11],[lt10leftLobe,-1,11],[lt10rightLobeA,-1,11],[lt10rightLobeB,-1,11],
 [lt11top,-1.1,12],[lt11main,-1.1,12],
 [lt12top,-1.2,13],[lt12main,-1.2,13],
 [lt13spotA,-1.3,14],[lt13spotB,-1.3,14],[lt13main,-1.3,14],
 [lt14main,-1.4,15],[lt15main,-1.5,16],[lt16main,-1.6,17],[lt17main,-1.7,18],[lt18main,-1.8,19],[lt19main,-1.9,20],[lt20main,-2,21]
];
const blackLevels = [-0.1,-0.6,-1.1,-1.6];
const isBlack = v => blackLevels.some(b => Math.abs(b - v) < 1e-6);
const X0 = -6, X1 = 6, Y0 = 0, Y1 = 9.82;
const sameFrameEdge = (a,b) => (a[0]===X0&&b[0]===X0)||(a[0]===X1&&b[0]===X1)||(a[1]===Y0&&b[1]===Y0)||(a[1]===Y1&&b[1]===Y1);
// black contour lines break under their labels
const underLabel = (a,b) => {
  const mx=(a[0]+b[0])/2, my=(a[1]+b[1])/2;
  return contourLabels.some(c => Math.hypot(c[0]-mx,c[1]-my) < 0.12);
};

function renderShape(params, api){
  const s = shapes[params.dataIndex], pts = s[0];
  const px = pts.map(p => api.coord(p));
  const children = [{type:'polygon', shape:{points:px}, style:{fill:scaleColors[s[2]], stroke:null}}];
  if (pts !== base) {
    const black = isBlack(s[1]);
    const line = black ? '#151515' : '#b3aea7';
    const gap = (a,b) => sameFrameEdge(a,b) || (black && underLabel(a,b));
    let run = [];
    const n = pts.length;
    let start = 0;
    for (let i=0;i<n;i++){ if (gap(pts[i],pts[(i+1)%n])) { start=(i+1)%n; break; } }
    for (let k=0;k<n;k++){
      const i=(start+k)%n, j=(i+1)%n;
      if (gap(pts[i],pts[j])) {
        if (run.length>1) children.push({type:'polyline',shape:{points:run},style:{fill:null,stroke:line,lineWidth:2.5,lineJoin:'round'}});
        run=[];
      } else {
        if (!run.length) run.push(px[i]);
        run.push(px[j]);
      }
    }
    if (run.length>1) children.push({type:'polyline',shape:{points:run},style:{fill:null,stroke:line,lineWidth:2.5,lineJoin:'round'}});
  }
  return {type:'group',children};
}

const scaleBands = scaleColors.map((c,i)=>[scaleLevels[i],scaleLevels[i+1],i]);
function renderScale(params, api){
  const b = scaleBands[params.dataIndex];
  const a = api.coord([0,b[0]]), c = api.coord([1,b[1]]);
  const kids = [{type:'rect',shape:{x:a[0],y:a[1],width:c[0]-a[0],height:c[1]-a[1]},style:{fill:scaleColors[b[2]]}}];
  if (params.dataIndex < scaleBands.length-1) {
    kids.push({type:'line',shape:{x1:a[0],y1:c[1],x2:c[0],y2:c[1]},style:{stroke:isBlack(b[1])?'#111':'#a8a8a8',lineWidth:3}});
  }
  return {type:'group',children:kids};
}
function renderScaleFrame(params, api){
  const a = api.coord([0,scaleLevels[0]]), c = api.coord([1,scaleLevels[scaleLevels.length-1]]);
  return {type:'rect',shape:{x:a[0],y:a[1],width:c[0]-a[0],height:c[1]-a[1]},style:{fill:null,stroke:'#8a8a8a',lineWidth:4}};
}

const serif = '"Liberation Serif"';
const axisStroke = {onZero:false,lineStyle:{color:'#222',width:3}};
const tickStyle = {show:true,inside:false,length:28,lineStyle:{color:'#333',width:2.5}};
const opt = {
  animation:false,
  backgroundColor:'#fff',
  grid:[
    {left:330,top:60,width:2181,height:1786,show:false},
    {left:2600,top:251,width:90,height:1456,show:false}
  ],
  xAxis:[
    {gridIndex:0,type:'value',position:'bottom',min:X0,max:X1,interval:1,z:10,axisLine:axisStroke,axisTick:tickStyle,splitLine:{show:false},
     axisLabel:{margin:46,fontFamily:serif,fontSize:52,color:'#111',customValues:xTicks,formatter:v=>String(v)}},
    {gridIndex:0,type:'value',position:'top',min:X0,max:X1,interval:1,z:10,axisLine:axisStroke,axisTick:tickStyle,splitLine:{show:false},axisLabel:{show:false}},
    {gridIndex:1,type:'value',min:0,max:1,show:false}
  ],
  yAxis:[
    {gridIndex:0,type:'value',position:'left',min:Y0,max:Y1,z:10,axisLine:axisStroke,
     axisTick:Object.assign({},tickStyle,{customValues:yTicks}),splitLine:{show:false},
     axisLabel:{margin:42,fontFamily:serif,fontSize:52,color:'#111',padding:[10,0,0,0],customValues:yTicks,formatter:v=>String(v)}},
    {gridIndex:0,type:'value',position:'right',min:Y0,max:Y1,z:10,axisLine:axisStroke,
     axisTick:Object.assign({},tickStyle,{customValues:yTicks}),splitLine:{show:false},axisLabel:{show:false}},
    {gridIndex:1,type:'value',position:'right',min:-2.1,max:0.1,axisLine:{show:false},axisTick:{show:false},splitLine:{show:false},
     axisLabel:{margin:10,fontFamily:serif,fontSize:54,color:'#111',align:'left',padding:[16,0,0,0],
       customValues:scaleLevels.slice(1),
       formatter:v=>scaleLabels[Math.round(-v*10)]}}
  ],
  series:[
    {type:'custom',name:'Z/Do',coordinateSystem:'cartesian2d',xAxisIndex:0,yAxisIndex:0,z:2,clip:true,silent:true,
     renderItem:renderShape,data:shapes.map(s=>s[0][0])},
    {type:'scatter',xAxisIndex:0,yAxisIndex:0,z:3,symbolSize:0,silent:true,itemStyle:{opacity:1},
     data:contourLabels.map((c,i)=>({value:[c[0],c[1]],
       label:{show:true,position:'inside',formatter:c[2],rotate:contourLabelAngles[i],fontFamily:'"Liberation Sans"',fontSize:46,color:'#111',
              textBorderWidth:0}}))},
    ...[section1,section2,section3,section4].map(sec=>({type:'line',xAxisIndex:0,yAxisIndex:0,z:4,silent:true,data:sec,symbol:'none',
       lineStyle:{color:'#000',width:8,cap:'butt',join:'miter'}})),
    {type:'scatter',xAxisIndex:0,yAxisIndex:0,z:5,symbolSize:0,silent:true,itemStyle:{opacity:1},
     data:sectionNumbers.map(c=>({value:[c[0],c[1]],
       label:{show:true,position:'inside',formatter:c[2],fontFamily:serif,fontWeight:'bold',fontSize:74,color:'#000',textBorderWidth:0,padding:[12,0,0,0]}}))},
    {type:'custom',coordinateSystem:'cartesian2d',xAxisIndex:2,yAxisIndex:2,z:2,silent:true,clip:false,
     renderItem:renderScale,data:scaleBands.map(b=>[0,b[0]])},
    {type:'custom',coordinateSystem:'cartesian2d',xAxisIndex:2,yAxisIndex:2,z:3,silent:true,clip:false,
     renderItem:renderScaleFrame,data:[[0,0]]}
  ],
  graphic:[
    {type:'text',x:1442,y:2030,style:{text:'X/Do',font:'bold 98px "Liberation Serif"',fill:'#000',align:'center',verticalAlign:'middle'}},
    {type:'text',x:138,y:1011,style:{text:'Y/Do',font:'bold 98px "Liberation Serif"',fill:'#000',align:'center',verticalAlign:'middle'}},
    {type:'text',x:2662,y:198,style:{text:'Z/Do',font:'bold 80px "Liberation Serif"',fill:'#000',align:'center',verticalAlign:'middle'}}
  ]
};
const chart = echarts.init(document.getElementById('c'),null,{renderer:'canvas',width:2826,height:2085});
chart.setOption(opt);
</script>
</body></html>
